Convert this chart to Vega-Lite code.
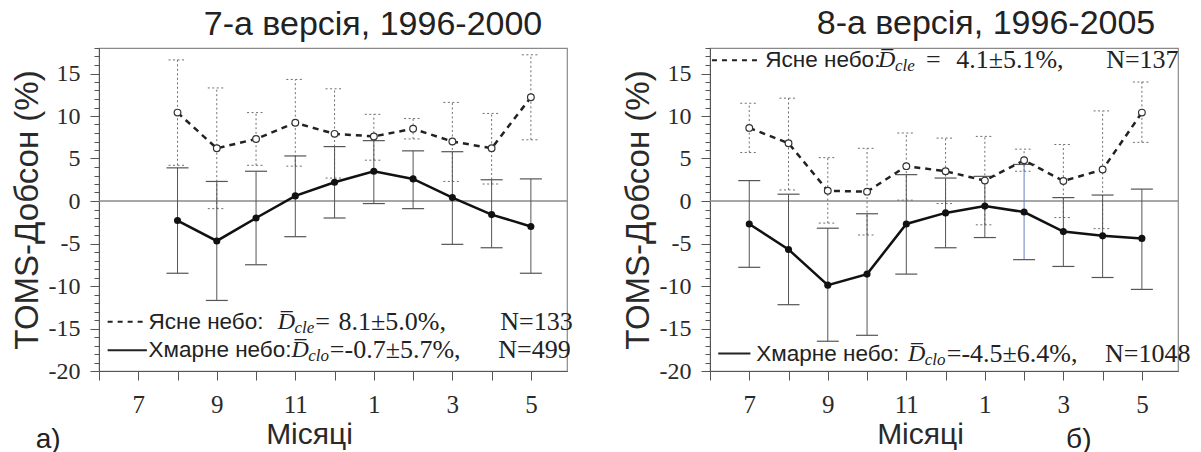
{
"$schema": "https://vega.github.io/schema/vega-lite/v6.json",
"padding": {"left": 10, "top": 6, "right": 4, "bottom": 0},
"background": "white",
"datasets": {
"pts": [
{"panel":"a","sky":"clear","m":8,"mean":10.4,"lo":4.2,"hi":16.6},
{"panel":"a","sky":"clear","m":9,"mean":6.2,"lo":-0.9,"hi":13.3},
{"panel":"a","sky":"clear","m":10,"mean":7.3,"lo":4.2,"hi":10.4},
{"panel":"a","sky":"clear","m":11,"mean":9.2,"lo":4.1,"hi":14.3},
{"panel":"a","sky":"clear","m":12,"mean":7.9,"lo":2.7,"hi":13.2},
{"panel":"a","sky":"clear","m":13,"mean":7.6,"lo":4.8,"hi":10.2},
{"panel":"a","sky":"clear","m":14,"mean":8.5,"lo":7.3,"hi":9.7},
{"panel":"a","sky":"clear","m":15,"mean":7.0,"lo":2.3,"hi":11.6},
{"panel":"a","sky":"clear","m":16,"mean":6.2,"lo":2.0,"hi":10.3},
{"panel":"a","sky":"clear","m":17,"mean":12.2,"lo":7.2,"hi":17.2},
{"panel":"a","sky":"cloudy","m":8,"mean":-2.3,"lo":-8.5,"hi":3.9},
{"panel":"a","sky":"cloudy","m":9,"mean":-4.7,"lo":-11.7,"hi":2.3},
{"panel":"a","sky":"cloudy","m":10,"mean":-2.0,"lo":-7.5,"hi":3.5},
{"panel":"a","sky":"cloudy","m":11,"mean":0.6,"lo":-4.2,"hi":5.3},
{"panel":"a","sky":"cloudy","m":12,"mean":2.2,"lo":-2.0,"hi":6.4},
{"panel":"a","sky":"cloudy","m":13,"mean":3.5,"lo":-0.3,"hi":7.1},
{"panel":"a","sky":"cloudy","m":14,"mean":2.6,"lo":-0.9,"hi":5.9},
{"panel":"a","sky":"cloudy","m":15,"mean":0.4,"lo":-5.1,"hi":5.8},
{"panel":"a","sky":"cloudy","m":16,"mean":-1.6,"lo":-5.5,"hi":2.5},
{"panel":"a","sky":"cloudy","m":17,"mean":-3.0,"lo":-8.5,"hi":2.6},
{"panel":"b","sky":"clear","m":7,"mean":8.6,"lo":5.7,"hi":11.5},
{"panel":"b","sky":"clear","m":8,"mean":6.8,"lo":1.3,"hi":12.1},
{"panel":"b","sky":"clear","m":9,"mean":1.2,"lo":-2.6,"hi":5.1},
{"panel":"b","sky":"clear","m":10,"mean":1.1,"lo":-4.0,"hi":6.2},
{"panel":"b","sky":"clear","m":11,"mean":4.1,"lo":0.1,"hi":8.0},
{"panel":"b","sky":"clear","m":12,"mean":3.5,"lo":-0.3,"hi":7.4},
{"panel":"b","sky":"clear","m":13,"mean":2.4,"lo":-2.8,"hi":7.6},
{"panel":"b","sky":"clear","m":14,"mean":4.8,"lo":3.5,"hi":6.1},
{"panel":"b","sky":"clear","m":15,"mean":2.35,"lo":-1.95,"hi":6.65},
{"panel":"b","sky":"clear","m":16,"mean":3.7,"lo":-3.25,"hi":10.6},
{"panel":"b","sky":"clear","m":17,"mean":10.4,"lo":6.9,"hi":14.0},
{"panel":"b","sky":"cloudy","m":7,"mean":-2.7,"lo":-7.8,"hi":2.4},
{"panel":"b","sky":"cloudy","m":8,"mean":-5.7,"lo":-12.2,"hi":0.8},
{"panel":"b","sky":"cloudy","m":9,"mean":-9.9,"lo":-16.5,"hi":-3.2},
{"panel":"b","sky":"cloudy","m":10,"mean":-8.6,"lo":-15.8,"hi":-1.5},
{"panel":"b","sky":"cloudy","m":11,"mean":-2.7,"lo":-8.6,"hi":3.1},
{"panel":"b","sky":"cloudy","m":12,"mean":-1.4,"lo":-5.5,"hi":2.7},
{"panel":"b","sky":"cloudy","m":13,"mean":-0.6,"lo":-4.3,"hi":2.9},
{"panel":"b","sky":"cloudy","m":14,"mean":-1.3,"lo":-6.9,"hi":4.3},
{"panel":"b","sky":"cloudy","m":15,"mean":-3.6,"lo":-7.7,"hi":0.4},
{"panel":"b","sky":"cloudy","m":16,"mean":-4.1,"lo":-9.0,"hi":0.7},
{"panel":"b","sky":"cloudy","m":17,"mean":-4.4,"lo":-10.4,"hi":1.4}
],
"legline": [
{"panel":"a","sky":"clear","m":6.22,"v":-14.2},
{"panel":"a","sky":"clear","m":7.19,"v":-14.2},
{"panel":"a","sky":"cloudy","m":6.22,"v":-17.56},
{"panel":"a","sky":"cloudy","m":7.22,"v":-17.56},
{"panel":"b","sky":"clear","m":6.05,"v":16.56},
{"panel":"b","sky":"clear","m":7.23,"v":16.56},
{"panel":"b","sky":"cloudy","m":6.21,"v":-17.95},
{"panel":"b","sky":"cloudy","m":7.03,"v":-17.95}
],
"leg": [
{"panel":"a","kind":"sans","m":7.26,"v":-14.2,"txt":"Ясне небо:"},
{"panel":"a","kind":"dsym","m":10.55,"v":-14.2,"txt":"D̅"},
{"panel":"a","kind":"sub","m":10.98,"v":-14.2,"txt":"cle"},
{"panel":"a","kind":"serif","m":11.51,"v":-14.2,"txt":"="},
{"panel":"a","kind":"serif","m":12.1,"v":-14.2,"txt":"8.1±5.0%,"},
{"panel":"a","kind":"serif","m":16.22,"v":-14.2,"txt":"N=133"},
{"panel":"a","kind":"sans","m":7.26,"v":-17.56,"txt":"Хмарне небо:"},
{"panel":"a","kind":"dsym","m":10.9,"v":-17.56,"txt":"D̅"},
{"panel":"a","kind":"sub","m":11.33,"v":-17.56,"txt":"clo"},
{"panel":"a","kind":"serif","m":11.88,"v":-17.56,"txt":"=-0.7±5.7%,"},
{"panel":"a","kind":"serif","m":16.17,"v":-17.56,"txt":"N=499"},
{"panel":"b","kind":"sans","m":7.41,"v":16.56,"txt":"Ясне небо:"},
{"panel":"b","kind":"dsym","m":10.28,"v":16.56,"txt":"D̅"},
{"panel":"b","kind":"sub","m":10.71,"v":16.56,"txt":"cle"},
{"panel":"b","kind":"serif","m":11.5,"v":16.56,"txt":"="},
{"panel":"b","kind":"serif","m":12.27,"v":16.56,"txt":"4.1±5.1%,"},
{"panel":"b","kind":"serif","m":16.09,"v":16.56,"txt":"N=137"},
{"panel":"b","kind":"sans","m":7.18,"v":-17.95,"txt":"Хмарне небо:"},
{"panel":"b","kind":"dsym","m":11.04,"v":-17.95,"txt":"D̅"},
{"panel":"b","kind":"sub","m":11.47,"v":-17.95,"txt":"clo"},
{"panel":"b","kind":"serif","m":12.03,"v":-17.95,"txt":"=-4.5±6.4%,"},
{"panel":"b","kind":"serif","m":16.06,"v":-17.95,"txt":"N=1048"},
{"panel":"a","kind":"lab","m":4.39,"v":-28.1,"txt":"а)"},
{"panel":"b","kind":"lab","m":15.07,"v":-28.1,"txt":"б)"}
]
},
"config": {
"view": {"stroke": "#8a8a8a", "strokeWidth": 1.2},
"axis": {"domainColor": "#555", "tickColor": "#555", "labelColor": "#2a2a2a", "titleColor": "#2a2a2a", "labelFont": "Liberation Serif", "titleFont": "Liberation Sans", "titleFontWeight": "normal", "grid": false},
"title": {"font": "Liberation Sans", "fontWeight": "normal", "fontSize": 34, "color": "#222"}
},
"hconcat": [
{
"width": 468, "height": 323,
"title": {"text": "7-а версія, 1996-2000", "dx": 40, "offset": 6},
"resolve": {"scale": {"y": "independent"}, "axis": {"y": "independent"}},
"layer": [
{"layer": [
{"data": {"values": [{}]}, "mark": {"type": "rule", "color": "#8a8a8a", "strokeWidth": 1.5},
 "encoding": {"y": {"datum": 0, "type": "quantitative", "scale": {"domain": [-20, 18], "nice": false, "zero": false}}}},
{"data": {"name": "pts"}, "transform": [{"filter": "datum.panel == 'a' && datum.sky == 'clear'"}],
 "mark": {"type": "rule", "color": "#6e6e6e", "strokeDash": [2, 2.5], "strokeWidth": 1},
 "encoding": {"x": {"field": "m", "type": "quantitative", "scale": {"domain": [6, 17.92], "nice": false, "zero": false},
   "axis": {"values": [6,7,8,9,10,11,12,13,14,15,16,17], "labelExpr": "datum.value % 2 == 1 ? '' + (datum.value > 12 ? datum.value - 12 : datum.value) : ''", "labelFontSize": 25, "labelPadding": 12, "tickSize": 9, "labelFlush": false, "labelOverlap": false, "title": "Місяці", "titleFontSize": 30, "titlePadding": 2, "titleX": 210}},
  "y": {"field": "lo", "type": "quantitative", "scale": {"domain": [-20, 18], "nice": false, "zero": false},
   "axis": {"values": [-20,-15,-10,-5,0,5,10,15], "labelExpr": "'' + datum.value", "labelFontSize": 24, "tickSize": 9, "labelPadding": 10, "labelOverlap": false, "labelFlush": false, "title": "TOMS-Добсон (%)", "titleFontSize": 33, "titlePadding": 4}},
  "y2": {"field": "hi"}}},
{"data": {"name": "pts"}, "transform": [{"filter": "datum.panel == 'a' && datum.sky == 'clear'"}, {"fold": ["lo", "hi"], "as": ["k", "val"]}],
 "mark": {"type": "rule", "color": "#6e6e6e", "strokeDash": [2, 2.5], "strokeWidth": 1, "xOffset": -9, "x2Offset": 9},
 "encoding": {"x": {"field": "m", "type": "quantitative", "scale": {"domain": [6, 17.92], "nice": false, "zero": false}}, "x2": {"field": "m"},
  "y": {"field": "val", "type": "quantitative", "scale": {"domain": [-20, 18], "nice": false, "zero": false}}}},
{"data": {"name": "pts"}, "transform": [{"filter": "datum.panel == 'a' && datum.sky == 'cloudy'"}],
 "mark": {"type": "rule", "color": "#555", "strokeWidth": 1},
 "encoding": {"x": {"field": "m", "type": "quantitative", "scale": {"domain": [6, 17.92], "nice": false, "zero": false}},
  "y": {"field": "lo", "type": "quantitative", "scale": {"domain": [-20, 18], "nice": false, "zero": false}}, "y2": {"field": "hi"}}},
{"data": {"name": "pts"}, "transform": [{"filter": "datum.panel == 'a' && datum.sky == 'cloudy'"}, {"fold": ["lo", "hi"], "as": ["k", "val"]}],
 "mark": {"type": "rule", "color": "#555", "strokeWidth": 1.2, "xOffset": -11, "x2Offset": 11},
 "encoding": {"x": {"field": "m", "type": "quantitative", "scale": {"domain": [6, 17.92], "nice": false, "zero": false}}, "x2": {"field": "m"},
  "y": {"field": "val", "type": "quantitative", "scale": {"domain": [-20, 18], "nice": false, "zero": false}}}},
{"data": {"name": "pts"}, "transform": [{"filter": "datum.panel == 'a' && datum.sky == 'clear'"}],
 "mark": {"type": "line", "color": "#222", "strokeDash": [6, 5], "strokeWidth": 2.5},
 "encoding": {"x": {"field": "m", "type": "quantitative", "scale": {"domain": [6, 17.92], "nice": false, "zero": false}},
  "y": {"field": "mean", "type": "quantitative", "scale": {"domain": [-20, 18], "nice": false, "zero": false}}}},
{"data": {"name": "pts"}, "transform": [{"filter": "datum.panel == 'a' && datum.sky == 'clear'"}],
 "mark": {"type": "point", "shape": "circle", "filled": true, "fill": "white", "stroke": "#333", "strokeWidth": 1.2, "size": 45, "opacity": 1},
 "encoding": {"x": {"field": "m", "type": "quantitative", "scale": {"domain": [6, 17.92], "nice": false, "zero": false}},
  "y": {"field": "mean", "type": "quantitative", "scale": {"domain": [-20, 18], "nice": false, "zero": false}}}},
{"data": {"name": "pts"}, "transform": [{"filter": "datum.panel == 'a' && datum.sky == 'cloudy'"}],
 "mark": {"type": "line", "color": "#111", "strokeWidth": 2.5},
 "encoding": {"x": {"field": "m", "type": "quantitative", "scale": {"domain": [6, 17.92], "nice": false, "zero": false}},
  "y": {"field": "mean", "type": "quantitative", "scale": {"domain": [-20, 18], "nice": false, "zero": false}}}},
{"data": {"name": "pts"}, "transform": [{"filter": "datum.panel == 'a' && datum.sky == 'cloudy'"}],
 "mark": {"type": "circle", "color": "#111", "size": 50, "opacity": 1},
 "encoding": {"x": {"field": "m", "type": "quantitative", "scale": {"domain": [6, 17.92], "nice": false, "zero": false}},
  "y": {"field": "mean", "type": "quantitative", "scale": {"domain": [-20, 18], "nice": false, "zero": false}}}},
{"data": {"name": "legline"}, "transform": [{"filter": "datum.panel == 'a' && datum.sky == 'clear'"}],
 "mark": {"type": "line", "color": "#222", "strokeDash": [5, 5], "strokeWidth": 2},
 "encoding": {"x": {"field": "m", "type": "quantitative", "scale": {"domain": [6, 17.92], "nice": false, "zero": false}},
  "y": {"field": "v", "type": "quantitative", "scale": {"domain": [-20, 18], "nice": false, "zero": false}}}},
{"data": {"name": "legline"}, "transform": [{"filter": "datum.panel == 'a' && datum.sky == 'cloudy'"}],
 "mark": {"type": "line", "color": "#222", "strokeWidth": 2},
 "encoding": {"x": {"field": "m", "type": "quantitative", "scale": {"domain": [6, 17.92], "nice": false, "zero": false}},
  "y": {"field": "v", "type": "quantitative", "scale": {"domain": [-20, 18], "nice": false, "zero": false}}}},
{"data": {"name": "leg"}, "transform": [{"filter": "datum.panel == 'a' && datum.kind == 'sans'"}],
 "mark": {"type": "text", "align": "left", "baseline": "middle", "font": "Liberation Sans", "fontSize": 22.5, "color": "#222"},
 "encoding": {"x": {"field": "m", "type": "quantitative", "scale": {"domain": [6, 17.92], "nice": false, "zero": false}},
  "y": {"field": "v", "type": "quantitative", "scale": {"domain": [-20, 18], "nice": false, "zero": false}}, "text": {"field": "txt"}}},
{"data": {"name": "leg"}, "transform": [{"filter": "datum.panel == 'a' && datum.kind == 'dsym'"}],
 "mark": {"type": "text", "align": "left", "baseline": "middle", "font": "Liberation Serif", "fontStyle": "italic", "fontSize": 24, "color": "#222"},
 "encoding": {"x": {"field": "m", "type": "quantitative", "scale": {"domain": [6, 17.92], "nice": false, "zero": false}},
  "y": {"field": "v", "type": "quantitative", "scale": {"domain": [-20, 18], "nice": false, "zero": false}}, "text": {"field": "txt"}}},
{"data": {"name": "leg"}, "transform": [{"filter": "datum.panel == 'a' && datum.kind == 'sub'"}],
 "mark": {"type": "text", "align": "left", "baseline": "middle", "font": "Liberation Serif", "fontStyle": "italic", "fontSize": 17, "color": "#222", "dy": 6},
 "encoding": {"x": {"field": "m", "type": "quantitative", "scale": {"domain": [6, 17.92], "nice": false, "zero": false}},
  "y": {"field": "v", "type": "quantitative", "scale": {"domain": [-20, 18], "nice": false, "zero": false}}, "text": {"field": "txt"}}},
{"data": {"name": "leg"}, "transform": [{"filter": "datum.panel == 'a' && datum.kind == 'serif'"}],
 "mark": {"type": "text", "align": "left", "baseline": "middle", "font": "Liberation Serif", "fontSize": 26, "color": "#222"},
 "encoding": {"x": {"field": "m", "type": "quantitative", "scale": {"domain": [6, 17.92], "nice": false, "zero": false}},
  "y": {"field": "v", "type": "quantitative", "scale": {"domain": [-20, 18], "nice": false, "zero": false}}, "text": {"field": "txt"}}},
{"data": {"name": "leg"}, "transform": [{"filter": "datum.panel == 'a' && datum.kind == 'lab'"}],
 "mark": {"type": "text", "align": "left", "baseline": "middle", "font": "Liberation Sans", "fontSize": 28, "color": "#222"},
 "encoding": {"x": {"field": "m", "type": "quantitative", "scale": {"domain": [6, 17.92], "nice": false, "zero": false}},
  "y": {"field": "v", "type": "quantitative", "scale": {"domain": [-20, 18], "nice": false, "zero": false}}, "text": {"field": "txt"}}}
]},
{"data": {"values": [{"z": 0}]}, "mark": {"type": "rule", "strokeOpacity": 0},
 "encoding": {"y": {"field": "z", "type": "quantitative", "scale": {"domain": [-20, 18], "nice": false, "zero": false},
  "axis": {"orient": "left", "values": [-20,-19,-18,-17,-16,-15,-14,-13,-12,-11,-10,-9,-8,-7,-6,-5,-4,-3,-2,-1,0,1,2,3,4,5,6,7,8,9,10,11,12,13,14,15,16,17,18], "labels": false, "tickSize": 5, "domain": false, "title": null}}}}
]
},
{
"width": 468, "height": 323,
"title": {"text": "8-а версія, 1996-2005", "dx": 42, "offset": 6},
"resolve": {"scale": {"y": "independent"}, "axis": {"y": "independent"}},
"layer": [
{"layer": [
{"data": {"values": [{}]}, "mark": {"type": "rule", "color": "#8a8a8a", "strokeWidth": 1.5},
 "encoding": {"y": {"datum": 0, "type": "quantitative", "scale": {"domain": [-20, 18], "nice": false, "zero": false}}}},
{"data": {"name": "pts"}, "transform": [{"filter": "datum.panel == 'b' && datum.sky == 'clear'"}],
 "mark": {"type": "rule", "color": "#6e6e6e", "strokeDash": [2, 2.5], "strokeWidth": 1},
 "encoding": {"x": {"field": "m", "type": "quantitative", "scale": {"domain": [6, 17.92], "nice": false, "zero": false},
   "axis": {"values": [6,7,8,9,10,11,12,13,14,15,16,17], "labelExpr": "datum.value % 2 == 1 ? '' + (datum.value > 12 ? datum.value - 12 : datum.value) : ''", "labelFontSize": 25, "labelPadding": 12, "tickSize": 9, "labelFlush": false, "labelOverlap": false, "title": "Місяці", "titleFontSize": 30, "titlePadding": 2, "titleX": 210}},
  "y": {"field": "lo", "type": "quantitative", "scale": {"domain": [-20, 18], "nice": false, "zero": false},
   "axis": {"values": [-20,-15,-10,-5,0,5,10,15], "labelExpr": "'' + datum.value", "labelFontSize": 24, "tickSize": 9, "labelPadding": 10, "labelOverlap": false, "labelFlush": false, "title": "TOMS-Добсон (%)", "titleFontSize": 33, "titlePadding": 4}},
  "y2": {"field": "hi"}}},
{"data": {"name": "pts"}, "transform": [{"filter": "datum.panel == 'b' && datum.sky == 'clear'"}, {"fold": ["lo", "hi"], "as": ["k", "val"]}],
 "mark": {"type": "rule", "color": "#6e6e6e", "strokeDash": [2, 2.5], "strokeWidth": 1, "xOffset": -9, "x2Offset": 9},
 "encoding": {"x": {"field": "m", "type": "quantitative", "scale": {"domain": [6, 17.92], "nice": false, "zero": false}}, "x2": {"field": "m"},
  "y": {"field": "val", "type": "quantitative", "scale": {"domain": [-20, 18], "nice": false, "zero": false}}}},
{"data": {"name": "pts"}, "transform": [{"filter": "datum.panel == 'b' && datum.sky == 'cloudy'"}],
 "mark": {"type": "rule", "strokeWidth": 1},
 "encoding": {"x": {"field": "m", "type": "quantitative", "scale": {"domain": [6, 17.92], "nice": false, "zero": false}},
  "y": {"field": "lo", "type": "quantitative", "scale": {"domain": [-20, 18], "nice": false, "zero": false}}, "y2": {"field": "hi"},
  "color": {"condition": {"test": "datum.m == 14", "value": "#6a80c0"}, "value": "#555"}}},
{"data": {"name": "pts"}, "transform": [{"filter": "datum.panel == 'b' && datum.sky == 'cloudy'"}, {"fold": ["lo", "hi"], "as": ["k", "val"]}],
 "mark": {"type": "rule", "color": "#555", "strokeWidth": 1.2, "xOffset": -11, "x2Offset": 11},
 "encoding": {"x": {"field": "m", "type": "quantitative", "scale": {"domain": [6, 17.92], "nice": false, "zero": false}}, "x2": {"field": "m"},
  "y": {"field": "val", "type": "quantitative", "scale": {"domain": [-20, 18], "nice": false, "zero": false}}}},
{"data": {"name": "pts"}, "transform": [{"filter": "datum.panel == 'b' && datum.sky == 'clear'"}],
 "mark": {"type": "line", "color": "#222", "strokeDash": [6, 5], "strokeWidth": 2.5},
 "encoding": {"x": {"field": "m", "type": "quantitative", "scale": {"domain": [6, 17.92], "nice": false, "zero": false}},
  "y": {"field": "mean", "type": "quantitative", "scale": {"domain": [-20, 18], "nice": false, "zero": false}}}},
{"data": {"name": "pts"}, "transform": [{"filter": "datum.panel == 'b' && datum.sky == 'clear'"}],
 "mark": {"type": "point", "shape": "circle", "filled": true, "fill": "white", "stroke": "#333", "strokeWidth": 1.2, "size": 45, "opacity": 1},
 "encoding": {"x": {"field": "m", "type": "quantitative", "scale": {"domain": [6, 17.92], "nice": false, "zero": false}},
  "y": {"field": "mean", "type": "quantitative", "scale": {"domain": [-20, 18], "nice": false, "zero": false}}}},
{"data": {"name": "pts"}, "transform": [{"filter": "datum.panel == 'b' && datum.sky == 'cloudy'"}],
 "mark": {"type": "line", "color": "#111", "strokeWidth": 2.5},
 "encoding": {"x": {"field": "m", "type": "quantitative", "scale": {"domain": [6, 17.92], "nice": false, "zero": false}},
  "y": {"field": "mean", "type": "quantitative", "scale": {"domain": [-20, 18], "nice": false, "zero": false}}}},
{"data": {"name": "pts"}, "transform": [{"filter": "datum.panel == 'b' && datum.sky == 'cloudy'"}],
 "mark": {"type": "circle", "color": "#111", "size": 50, "opacity": 1},
 "encoding": {"x": {"field": "m", "type": "quantitative", "scale": {"domain": [6, 17.92], "nice": false, "zero": false}},
  "y": {"field": "mean", "type": "quantitative", "scale": {"domain": [-20, 18], "nice": false, "zero": false}}}},
{"data": {"name": "legline"}, "transform": [{"filter": "datum.panel == 'b' && datum.sky == 'clear'"}],
 "mark": {"type": "line", "color": "#222", "strokeDash": [5, 5], "strokeWidth": 2},
 "encoding": {"x": {"field": "m", "type": "quantitative", "scale": {"domain": [6, 17.92], "nice": false, "zero": false}},
  "y": {"field": "v", "type": "quantitative", "scale": {"domain": [-20, 18], "nice": false, "zero": false}}}},
{"data": {"name": "legline"}, "transform": [{"filter": "datum.panel == 'b' && datum.sky == 'cloudy'"}],
 "mark": {"type": "line", "color": "#222", "strokeWidth": 2},
 "encoding": {"x": {"field": "m", "type": "quantitative", "scale": {"domain": [6, 17.92], "nice": false, "zero": false}},
  "y": {"field": "v", "type": "quantitative", "scale": {"domain": [-20, 18], "nice": false, "zero": false}}}},
{"data": {"name": "leg"}, "transform": [{"filter": "datum.panel == 'b' && datum.kind == 'sans'"}],
 "mark": {"type": "text", "align": "left", "baseline": "middle", "font": "Liberation Sans", "fontSize": 22.5, "color": "#222"},
 "encoding": {"x": {"field": "m", "type": "quantitative", "scale": {"domain": [6, 17.92], "nice": false, "zero": false}},
  "y": {"field": "v", "type": "quantitative", "scale": {"domain": [-20, 18], "nice": false, "zero": false}}, "text": {"field": "txt"}}},
{"data": {"name": "leg"}, "transform": [{"filter": "datum.panel == 'b' && datum.kind == 'dsym'"}],
 "mark": {"type": "text", "align": "left", "baseline": "middle", "font": "Liberation Serif", "fontStyle": "italic", "fontSize": 24, "color": "#222"},
 "encoding": {"x": {"field": "m", "type": "quantitative", "scale": {"domain": [6, 17.92], "nice": false, "zero": false}},
  "y": {"field": "v", "type": "quantitative", "scale": {"domain": [-20, 18], "nice": false, "zero": false}}, "text": {"field": "txt"}}},
{"data": {"name": "leg"}, "transform": [{"filter": "datum.panel == 'b' && datum.kind == 'sub'"}],
 "mark": {"type": "text", "align": "left", "baseline": "middle", "font": "Liberation Serif", "fontStyle": "italic", "fontSize": 17, "color": "#222", "dy": 6},
 "encoding": {"x": {"field": "m", "type": "quantitative", "scale": {"domain": [6, 17.92], "nice": false, "zero": false}},
  "y": {"field": "v", "type": "quantitative", "scale": {"domain": [-20, 18], "nice": false, "zero": false}}, "text": {"field": "txt"}}},
{"data": {"name": "leg"}, "transform": [{"filter": "datum.panel == 'b' && datum.kind == 'serif'"}],
 "mark": {"type": "text", "align": "left", "baseline": "middle", "font": "Liberation Serif", "fontSize": 26, "color": "#222"},
 "encoding": {"x": {"field": "m", "type": "quantitative", "scale": {"domain": [6, 17.92], "nice": false, "zero": false}},
  "y": {"field": "v", "type": "quantitative", "scale": {"domain": [-20, 18], "nice": false, "zero": false}}, "text": {"field": "txt"}}},
{"data": {"name": "leg"}, "transform": [{"filter": "datum.panel == 'b' && datum.kind == 'lab'"}],
 "mark": {"type": "text", "align": "left", "baseline": "middle", "font": "Liberation Sans", "fontSize": 28, "color": "#222"},
 "encoding": {"x": {"field": "m", "type": "quantitative", "scale": {"domain": [6, 17.92], "nice": false, "zero": false}},
  "y": {"field": "v", "type": "quantitative", "scale": {"domain": [-20, 18], "nice": false, "zero": false}}, "text": {"field": "txt"}}}
]},
{"data": {"values": [{"z": 0}]}, "mark": {"type": "rule", "strokeOpacity": 0},
 "encoding": {"y": {"field": "z", "type": "quantitative", "scale": {"domain": [-20, 18], "nice": false, "zero": false},
  "axis": {"orient": "left", "values": [-20,-19,-18,-17,-16,-15,-14,-13,-12,-11,-10,-9,-8,-7,-6,-5,-4,-3,-2,-1,0,1,2,3,4,5,6,7,8,9,10,11,12,13,14,15,16,17,18], "labels": false, "tickSize": 5, "domain": false, "title": null}}}}
]
}
],
"spacing": 47
}
